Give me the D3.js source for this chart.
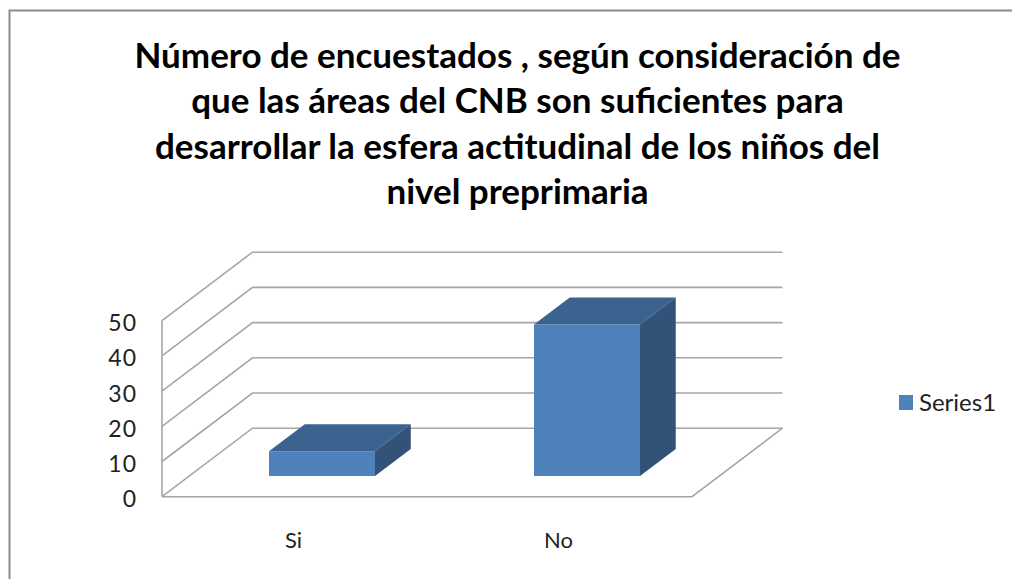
<!DOCTYPE html>
<html><head><meta charset="utf-8">
<script src="https://cdn.jsdelivr.net/npm/d3@7"></script>
<style>html,body{margin:0;background:#fff}svg{display:block}</style></head>
<body><svg id="c" width="1012" height="579"></svg>
<script>
const categories = ["Si", "No"];
const seriesName = "Series1";
const values = [7, 43];
const yTicks = [0, 10, 20, 30, 40, 50];
const titleLines = [
  "Número de encuestados , según consideración de",
  "que las áreas del CNB son suficientes para",
  "desarrollar la esfera actitudinal de los niños del",
  "nivel preprimaria"
];
const svg = d3.select("#c");
const font = "Lato, Carlito, sans-serif";
const grid = "#a6a6a6";

svg.append("path").attr("d","M9.5,579V10.5H1012").attr("fill","none").attr("stroke","#8c8c8c").attr("stroke-width",2);

svg.append("g").selectAll("text").data(titleLines).join("text")
  .attr("x",517.5).attr("y",(d,i)=>67.5+i*45.5).attr("text-anchor","middle")
  .attr("font-family",font).attr("font-weight",700).attr("font-size",35).attr("fill","#000")
  .text(d=>d);

const y = d3.scaleLinear().domain([0,50]).range([496.7,320.7]);
const x = d3.scaleBand().domain(categories).range([162,692]);
const depthX = d3.scaleLinear().domain([0,1]).range([0,90.5]);
const depthY = d3.scaleLinear().domain([0,1]).range([0,-68.5]);
const P = (px,v,d)=>[px+depthX(d), y(v)+depthY(d)];
const line = d3.line();

const g = svg.append("g").attr("fill","none").attr("stroke",grid).attr("stroke-width",1.6);
g.selectAll("path.g").data(yTicks).join("path").attr("class","g")
  .attr("d",v=>line([P(162,v,0),P(162,v,1),P(692,v,1)]));
g.append("path").attr("d",line([P(162,0,0),P(162,50,0)]));
g.append("path").attr("d",line([P(162,0,0),P(692,0,0),P(692,0,1)]));

svg.append("g").selectAll("text").data(yTicks).join("text")
  .attr("x",137).attr("y",v=>y(v)+10.5).attr("text-anchor","end")
  .attr("font-family",font).attr("font-size",23).attr("letter-spacing",1).attr("fill","#222").text(v=>v);

svg.append("g").selectAll("text").data(categories).join("text")
  .attr("x",c=>x(c)+x.bandwidth()/2-1).attr("y",548).attr("text-anchor","middle")
  .attr("font-family",font).attr("font-size",22).attr("fill","#222").text(c=>c);

const bw = 106, bd = 0.395, base = 5.9;
const bars = svg.append("g").selectAll("g").data(categories.map((c,i)=>({c,v:values[i]}))).join("g");
const x0 = d=>x(d.c)+x.bandwidth()/2-bw/2+27.5;
const fp = (d,dx,v,dp)=>P(x0(d)+dx,v,dp);
bars.append("path").attr("fill","#4f81bd").attr("d",d=>line([fp(d,0,base,0),fp(d,bw,base,0),fp(d,bw,base+d.v,0),fp(d,0,base+d.v,0)])+"Z");
bars.append("path").attr("fill","#3c6290").attr("d",d=>line([fp(d,0,base+d.v,0),fp(d,bw,base+d.v,0),fp(d,bw,base+d.v,bd),fp(d,0,base+d.v,bd)])+"Z");
bars.append("path").attr("fill","#325278").attr("d",d=>line([fp(d,bw,base,0),fp(d,bw,base,bd),fp(d,bw,base+d.v,bd),fp(d,bw,base+d.v,0)])+"Z");

svg.append("rect").attr("x",899).attr("y",395).attr("width",14).attr("height",15).attr("fill","#4f81bd");
svg.append("text").attr("x",919).attr("y",411).attr("font-family",font).attr("font-size",24).attr("fill","#222").text(seriesName);
</script></body></html>
